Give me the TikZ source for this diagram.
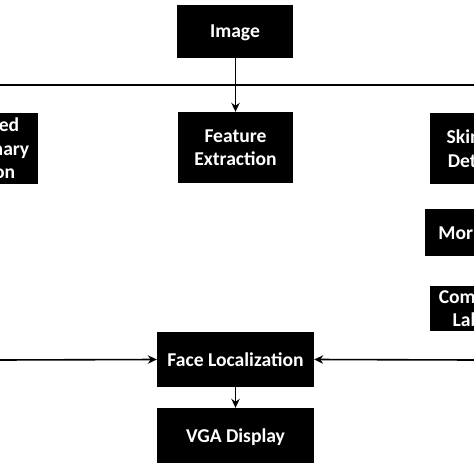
\documentclass[tikz,border=0pt]{standalone}
\usepackage{fontspec}
\setmainfont{Carlito}
\usetikzlibrary{arrows.meta}
\tikzset{
  blk/.style={fill=black, text=white, font=\bfseries\fontsize{19.6bp}{23.5bp}\selectfont, align=center, inner sep=0pt, text depth=0pt},
  flow/.style={line width=1.6bp, -{Stealth[length=9bp,width=8.5bp]}},
}

\begin{document}
\begin{tikzpicture}[x=1bp,y=-1bp]
			%%%%% START %%%%%
			\useasboundingbox (0,0) rectangle (474,474);
			\clip (0,0) rectangle (474,474);
			
			\node[blk, minimum width=116bp, minimum height=53bp] (img) at (235,31.5) {Image};
			
			\coordinate (busL) at (0,85);
			\coordinate (busR) at (474,85);
			\draw[line width=2.2bp] (busL) -- (busR);
			
			\node[blk, minimum width=102bp, minimum height=71bp] (thr) at (-12.7,148.5) {Masked\\Stationary\\Region};
			\node[blk, minimum width=115bp, minimum height=71bp] (feat) at (235.5,147.5) {Feature\\Extraction};
			\node[blk, minimum width=115bp, minimum height=71bp] (skin) at (487.5,148.5) {Skin Color\\Detection};
			
			\node[blk, minimum width=127bp, minimum height=47bp] (morph) at (488.5,232.5) {Morphology};
			\node[blk, minimum width=113bp, minimum height=45bp] (comp) at (486.5,308.5) {Component\\Labeling};
			
			\node[blk, minimum width=157bp, minimum height=55bp] (face) at (235.5,359.5) {Face Localization};
			\node[blk, minimum width=157bp, minimum height=55bp] (vga) at (235.5,435.5) {VGA Display};
			
			\coordinate (inL) at (0,360);
			\coordinate (inR) at (474,360);
			
			\draw[flow] (img.south -| feat.north) -- (feat.north);
			\draw[flow] (inL) -- (face.west);
			\draw[flow] (inR) -- (face.east);
			\draw[flow] (face.south) -- (vga.north);
			
			%%%%% END %%%%%
\end{tikzpicture}
\end{document}
